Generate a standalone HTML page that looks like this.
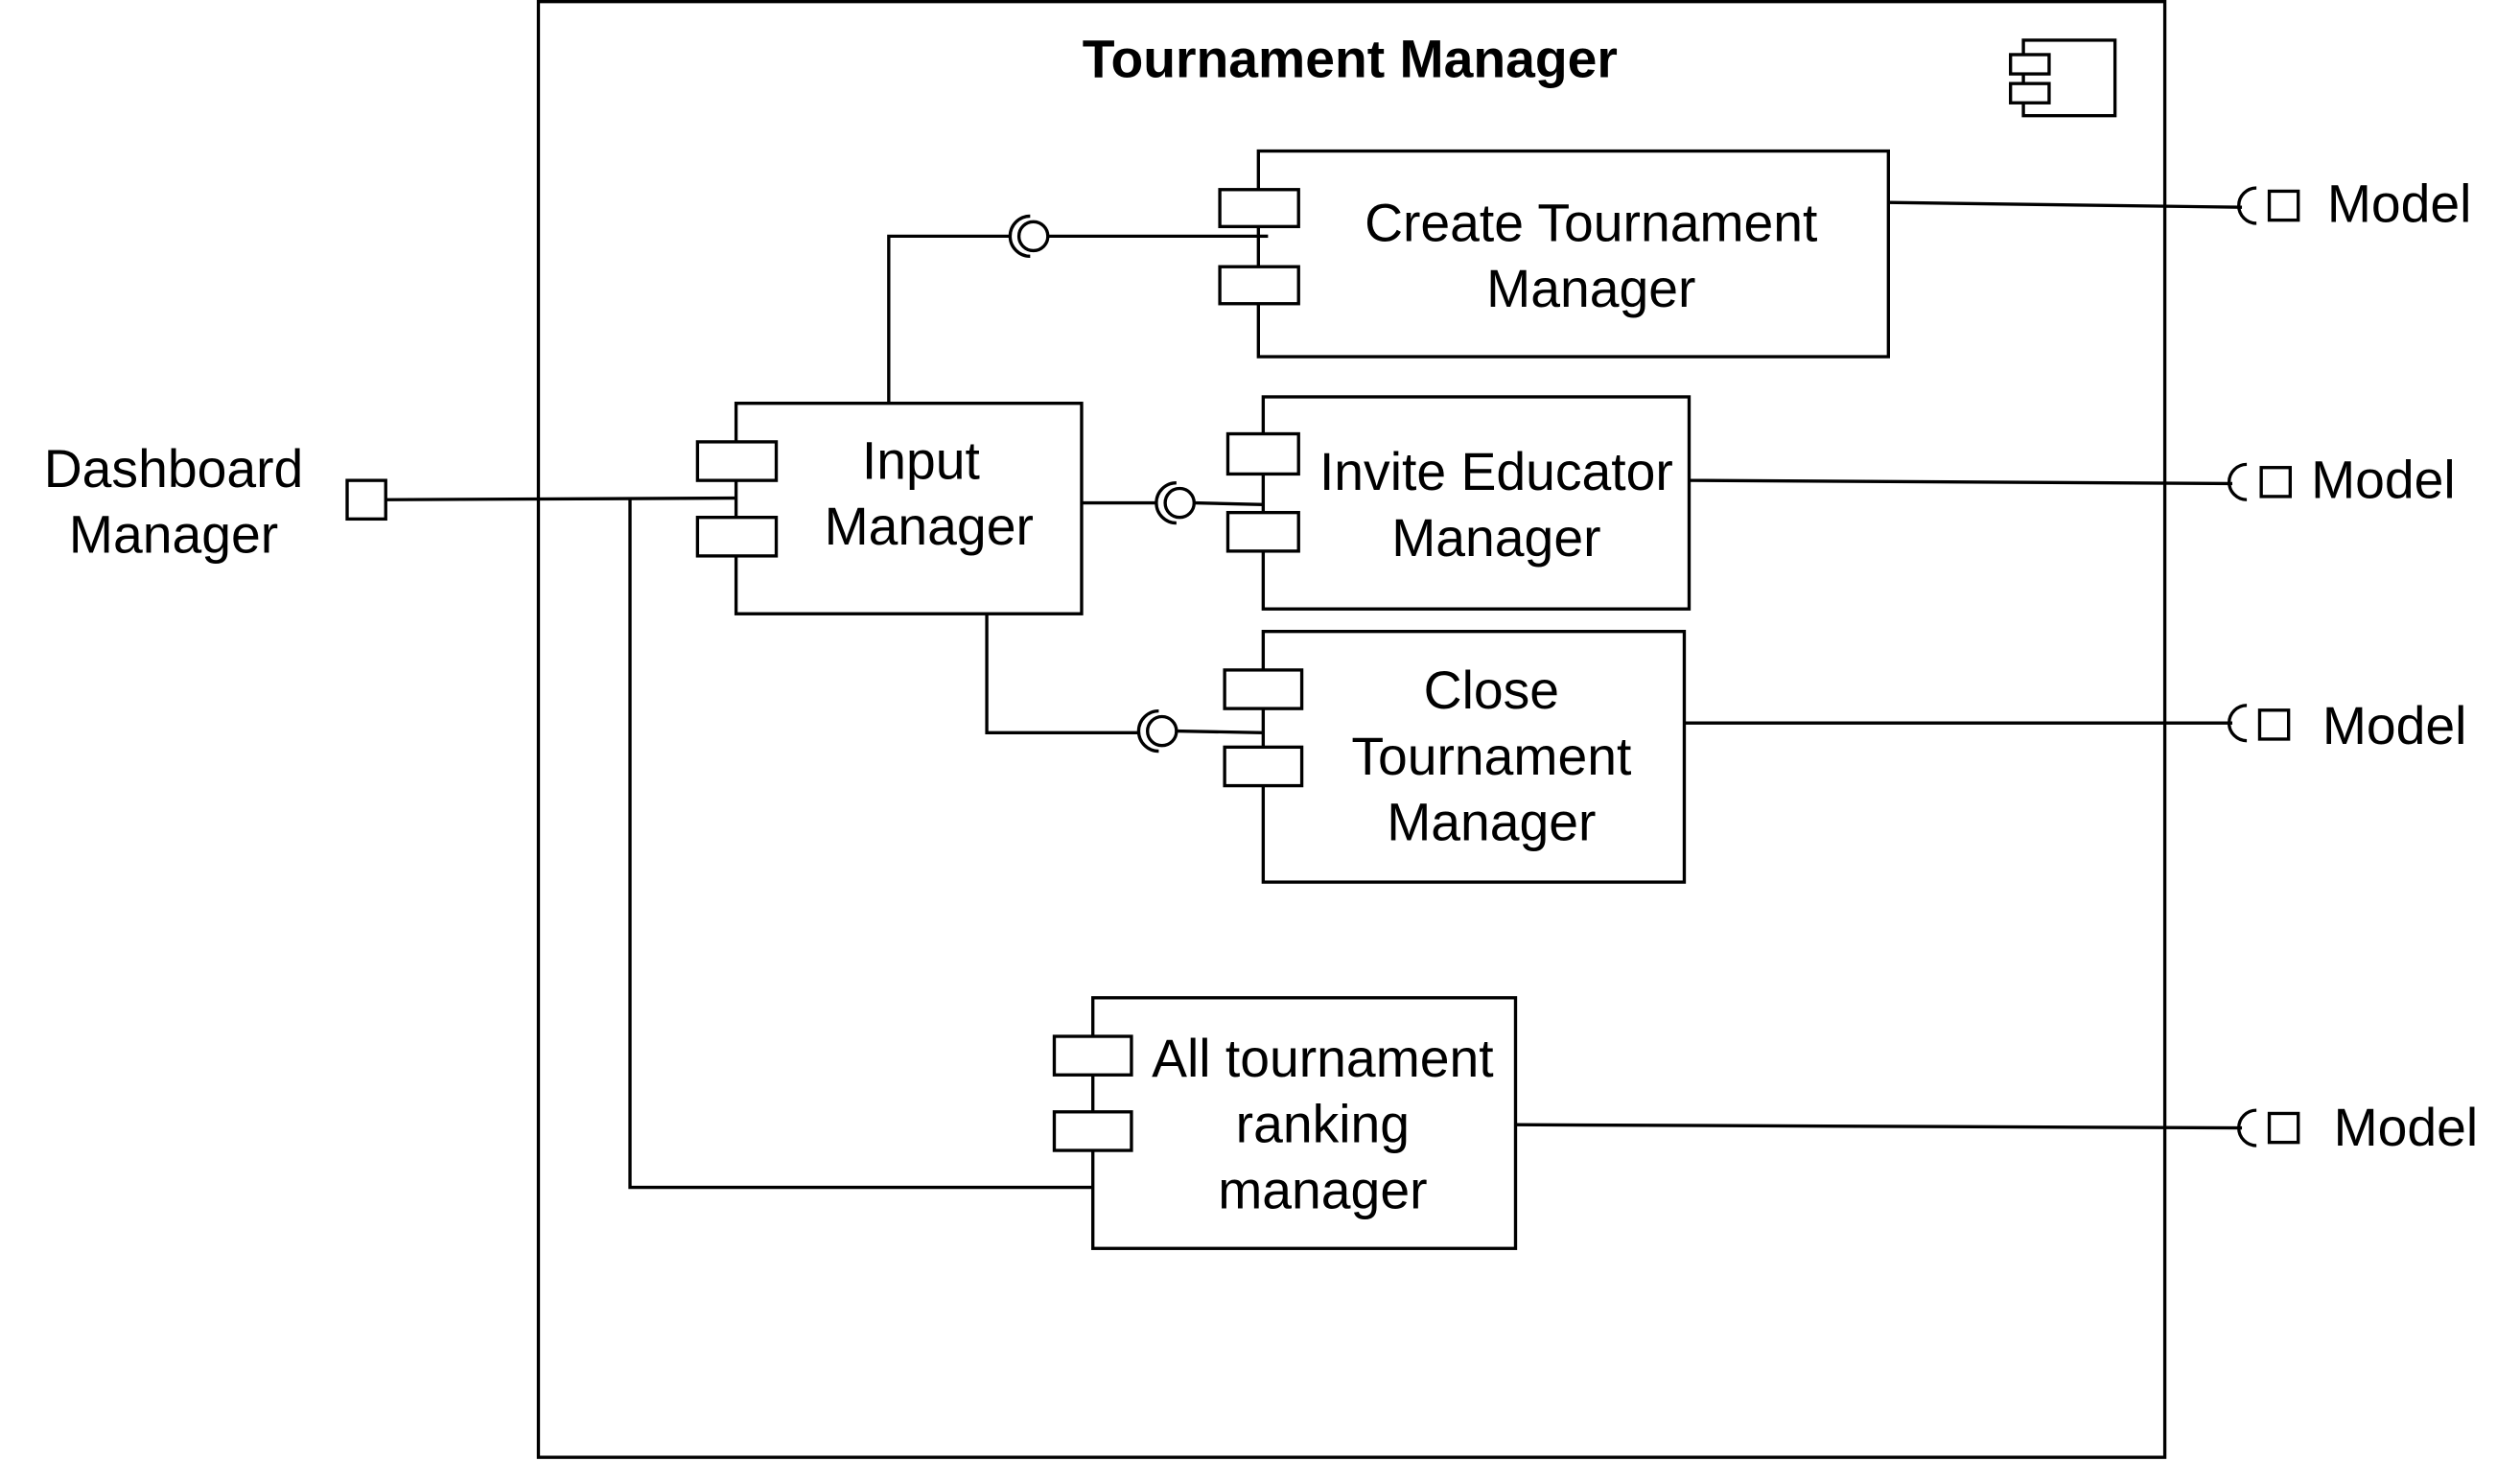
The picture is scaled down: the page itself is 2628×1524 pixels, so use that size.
<!DOCTYPE html>
<html><head><meta charset="utf-8"><style>
html,body{margin:0;padding:0;background:#fff;}
svg{display:block;}
text{font-family:"Liberation Sans",Arial,sans-serif;fill:#000;}
</style></head><body>
<svg width="2628" height="1524" viewBox="0 0 1568 909.3" xmlns="http://www.w3.org/2000/svg">
<g fill="none" stroke="#000" stroke-width="2">
<rect x="335" y="1" width="1012" height="906"/>
<rect x="1259" y="25" width="57" height="47" fill="#fff"/>
<rect x="1251" y="34" width="24" height="12" fill="#fff"/>
<rect x="1251" y="52" width="24" height="12" fill="#fff"/>

<polyline points="240,311 458,310"/>
<polyline points="392,311 392,739 680,739"/>
<polyline points="553,251 553,147 629,147"/>
<line x1="652" y1="147" x2="789" y2="147"/>
<polyline points="673,313 720,313"/>
<line x1="743" y1="313" x2="786" y2="314"/>
<polyline points="614,382 614,456 709,456"/>
<line x1="732" y1="455" x2="786" y2="456"/>
<circle cx="643" cy="147" r="9"/><path d="M641,134.5 A12.5,12.5 0 0 0 641,159.5"/>
<circle cx="734" cy="313" r="9"/><path d="M732,300.5 A12.5,12.5 0 0 0 732,325.5"/>
<circle cx="723" cy="455" r="9"/><path d="M721,442.5 A12.5,12.5 0 0 0 721,467.5"/>

<line x1="1175" y1="126" x2="1395" y2="129"/>
<path d="M1404,117 A11,11 0 0 0 1404,139"/>
<rect x="1412" y="119" width="18" height="18"/>
<line x1="1051" y1="299" x2="1389" y2="301"/>
<path d="M1398,289 A11,11 0 0 0 1398,311"/>
<rect x="1407" y="291" width="18" height="18"/>
<line x1="1048" y1="450" x2="1389" y2="450"/>
<path d="M1398,439 A11,11 0 0 0 1398,461"/>
<rect x="1406" y="442" width="18" height="18"/>
<line x1="943" y1="700" x2="1395" y2="702"/>
<path d="M1404,691 A11,11 0 0 0 1404,713"/>
<rect x="1412" y="693" width="18" height="18"/>

<rect x="216" y="299" width="24" height="24" fill="#fff"/>

<rect x="458" y="251" width="215" height="131" fill="#fff"/>
<rect x="434" y="275" width="49" height="24" fill="#fff"/>
<rect x="434" y="322" width="49" height="24" fill="#fff"/>
<rect x="783" y="94" width="392" height="128" fill="#fff"/>
<rect x="759" y="118" width="49" height="23" fill="#fff"/>
<rect x="759" y="166" width="49" height="23" fill="#fff"/>
<line x1="783" y1="147" x2="789" y2="147"/>
<rect x="786" y="247" width="265" height="132" fill="#fff"/>
<rect x="764" y="270" width="44" height="25" fill="#fff"/>
<rect x="764" y="319" width="44" height="24" fill="#fff"/>
<rect x="786" y="393" width="262" height="156" fill="#fff"/>
<rect x="762" y="417" width="48" height="24" fill="#fff"/>
<rect x="762" y="465" width="48" height="24" fill="#fff"/>
<rect x="680" y="621" width="263" height="156" fill="#fff"/>
<rect x="656" y="645" width="48" height="24" fill="#fff"/>
<rect x="656" y="692" width="48" height="24" fill="#fff"/>
</g>

<text x="840" y="48" font-size="33" font-weight="bold" text-anchor="middle">Tournament Manager</text>
<g font-size="33" text-anchor="middle">
<text x="108" y="303">Dashboard</text>
<text x="108" y="344">Manager</text>
<text x="573" y="298">Input</text>
<text x="578" y="339">Manager</text>
<text x="990" y="150">Create Tournament</text>
<text x="990" y="191">Manager</text>
<text x="931" y="305">Invite Educator</text>
<text x="931" y="346">Manager</text>
<text x="928" y="441">Close</text>
<text x="928" y="482">Tournament</text>
<text x="928" y="523">Manager</text>
<text x="823" y="670">All tournament</text>
<text x="823" y="711">ranking</text>
<text x="823" y="752">manager</text>
</g>
<g font-size="33">
<text x="1448" y="138">Model</text>
<text x="1438" y="310">Model</text>
<text x="1445" y="463">Model</text>
<text x="1452" y="713">Model</text>
</g>
</svg>
</body></html>
